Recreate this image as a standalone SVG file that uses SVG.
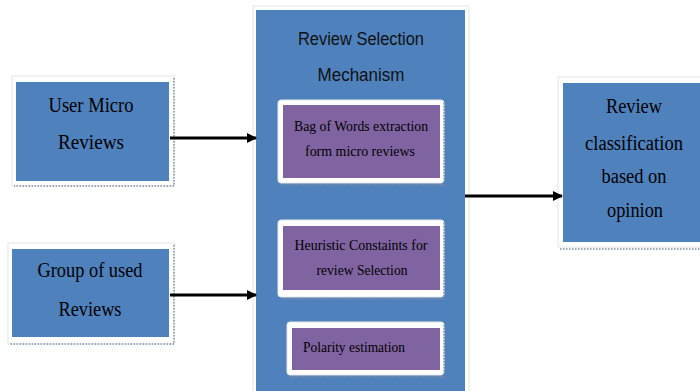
<svg xmlns="http://www.w3.org/2000/svg" width="700" height="391" viewBox="0 0 700 391">
<defs>
<marker id="ah" markerWidth="10" markerHeight="10" refX="9" refY="5" orient="auto" markerUnits="userSpaceOnUse">
<path d="M0,0 L10,5 L0,10 Z" fill="#000"/>
</marker>
</defs>
<style>
.frame{fill:#fff;stroke:#e6e6e6;stroke-width:1}
.dot{fill:none;stroke:#7f8fa6;stroke-width:1.5;stroke-dasharray:1.5 1.5}
.blue{fill:#4f81bd}
.purple{fill:#8064a2}
.serif{font-family:"Liberation Serif","Times New Roman",serif;fill:#000;text-anchor:middle}
.sans{font-family:"Liberation Sans",Arial,sans-serif;fill:#111;text-anchor:middle}
.edge{stroke:#000;stroke-width:3;fill:none}
</style>
<rect width="700" height="391" fill="#fff"/>
<g id="user-micro-reviews">
<rect class="frame" x="12" y="76" width="162" height="110"/>
<path class="dot" d="M174,78 V186 H14"/>
<rect class="blue" x="16" y="82" width="153" height="99"/>
<text class="serif" x="91" y="112" font-size="20" textLength="85" lengthAdjust="spacingAndGlyphs">User Micro</text>
<text class="serif" x="91" y="149" font-size="20" textLength="66" lengthAdjust="spacingAndGlyphs">Reviews</text>
</g>
<g id="group-of-used-reviews">
<rect class="frame" x="8" y="243" width="166" height="101"/>
<path class="dot" d="M174,245 V344 H10"/>
<rect class="blue" x="12" y="249" width="157" height="88"/>
<text class="serif" x="90" y="277" font-size="20" textLength="105" lengthAdjust="spacingAndGlyphs">Group of used</text>
<text class="serif" x="90" y="316" font-size="20" textLength="63" lengthAdjust="spacingAndGlyphs">Reviews</text>
</g>
<g id="review-selection-mechanism">
<rect class="frame" x="253" y="6" width="216" height="390"/>
<rect class="blue" x="256" y="10" width="209" height="385"/>
<text class="sans" x="361" y="45" font-size="18" textLength="126" lengthAdjust="spacingAndGlyphs">Review Selection</text>
<text class="sans" x="361" y="81" font-size="18" textLength="87" lengthAdjust="spacingAndGlyphs">Mechanism</text>
</g>
<g id="bag-of-words">
<rect class="frame" x="278" y="100" width="166" height="83" rx="3"/>
<path class="dot" d="M444,103 V185 H280"/>
<rect class="purple" x="283" y="105" width="157" height="73"/>
<text class="serif" x="361" y="131" font-size="14" textLength="134" lengthAdjust="spacingAndGlyphs">Bag of Words extraction</text>
<text class="serif" x="360" y="156" font-size="14" textLength="110" lengthAdjust="spacingAndGlyphs">form micro reviews</text>
</g>
<g id="heuristic-constraints">
<rect class="frame" x="278" y="220" width="166" height="77" rx="3"/>
<path class="dot" d="M444,223 V299 H280"/>
<rect class="purple" x="283" y="226" width="157" height="64"/>
<text class="serif" x="361" y="250" font-size="14" textLength="133" lengthAdjust="spacingAndGlyphs">Heuristic Constaints for</text>
<text class="serif" x="362" y="275" font-size="14" textLength="91" lengthAdjust="spacingAndGlyphs">review Selection</text>
</g>
<g id="polarity-estimation">
<rect class="frame" x="287" y="322" width="157" height="53" rx="3"/>
<path class="dot" d="M444,325 V377 H289"/>
<rect class="purple" x="292" y="328" width="148" height="42"/>
<text class="serif" x="354" y="352" font-size="14" textLength="102" lengthAdjust="spacingAndGlyphs">Polarity estimation</text>
</g>
<g id="review-classification">
<rect class="frame" x="558" y="77" width="146" height="170"/>
<path class="dot" d="M560,249 H700"/>
<rect class="blue" x="563" y="83" width="140" height="159"/>
<text class="serif" x="634" y="113" font-size="20" textLength="56" lengthAdjust="spacingAndGlyphs">Review</text>
<text class="serif" x="634" y="150" font-size="20" textLength="98" lengthAdjust="spacingAndGlyphs">classification</text>
<text class="serif" x="634" y="183" font-size="20" textLength="65" lengthAdjust="spacingAndGlyphs">based on</text>
<text class="serif" x="635" y="217" font-size="20" textLength="56" lengthAdjust="spacingAndGlyphs">opinion</text>
</g>
<g id="connectors">
<line class="edge" x1="170" y1="138" x2="256" y2="138" marker-end="url(#ah)"/>
<line class="edge" x1="170" y1="295" x2="256" y2="295" marker-end="url(#ah)"/>
<line class="edge" x1="465" y1="196" x2="562" y2="196" marker-end="url(#ah)"/>
</g>
</svg>
